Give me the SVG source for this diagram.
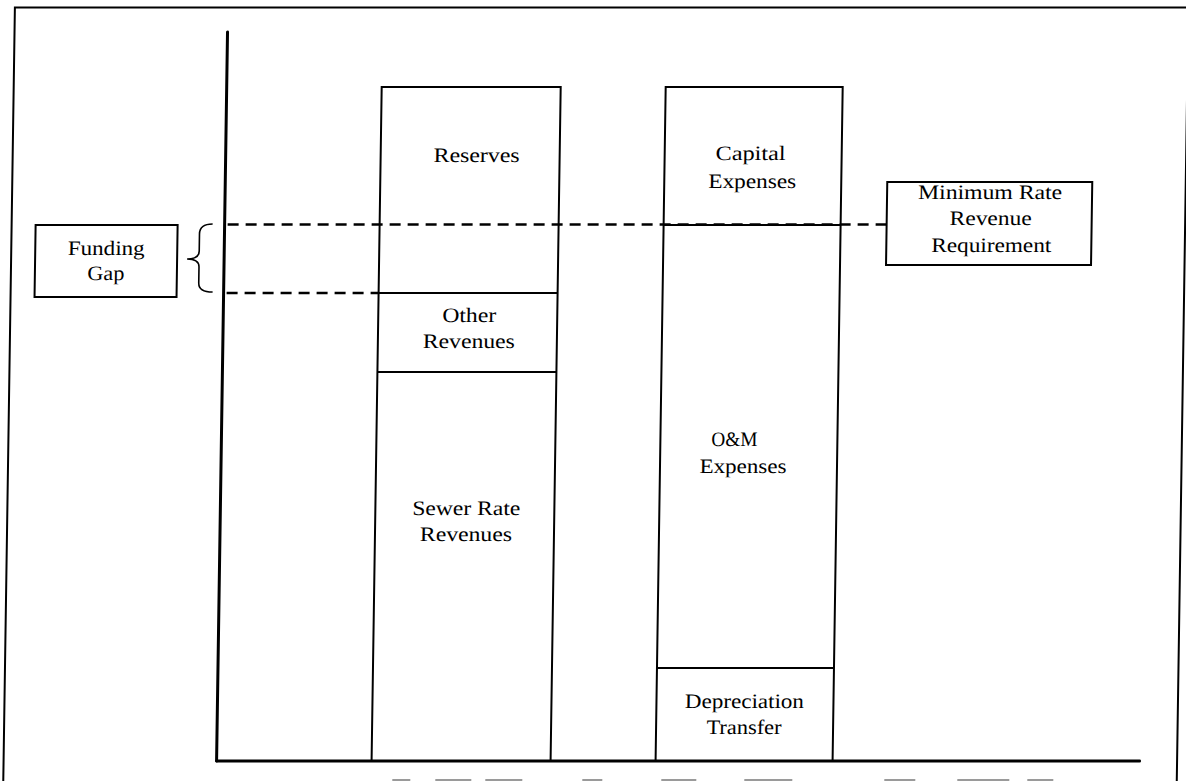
<svg xmlns="http://www.w3.org/2000/svg" width="1186" height="781" viewBox="0 0 1186 781">
  <style>
    .frame { fill: none; stroke: #000; stroke-width: 2; }
    .box { fill: none; stroke: #000; stroke-width: 2; }
    .axis { fill: none; stroke: #000; stroke-width: 3; stroke-linecap: round; }
    .div { fill: none; stroke: #000; stroke-width: 1.8; }
    .dash { fill: none; stroke: #000; stroke-width: 2.6; stroke-dasharray: 11 7; }
    .brace { fill: none; stroke: #000; stroke-width: 1.6; }
    .lbl { font-family: "Liberation Serif", "Times New Roman", serif; font-size: 20.5px; fill: #000; text-anchor: middle; }
    .smudge { fill: #9a9a9a; }
  </style>
  <rect width="1186" height="781" fill="#fff"/>
  <!-- the whole page leans slightly to the left -->
  <g transform="skewX(-0.86)">
    <g id="frame">
      <path class="frame" d="M15,800 L15,7.5 L1200,7.5 M1188.5,100 L1188.5,800"/>
    </g>

    <g id="axes">
      <line class="axis" x1="228" y1="32" x2="228" y2="761"/>
      <line class="axis" x1="228" y1="761" x2="1151" y2="761"/>
    </g>

    <g id="connectors">
      <!-- minimum rate revenue requirement level -->
      <line class="dash" x1="231" y1="224.5" x2="890" y2="224.5"/>
      <!-- available revenue level -->
      <line class="dash" x1="231" y1="293" x2="383" y2="293"/>
      <!-- brace marking the funding gap -->
      <path class="brace" d="M216,224 Q203,224 203,234 L203,251 Q203,259 191,259 Q203,259 203,267 L203,283 Q203,292 217,292"/>
    </g>

    <g id="revenues-bar">
      <rect class="box" x="383" y="87" width="179" height="674"/>
      <line class="div" x1="383" y1="293" x2="562" y2="293"/>
      <line class="div" x1="383" y1="372" x2="562" y2="372"/>
    </g>
    <g id="reserves">
      <text class="lbl" x="479" y="162" textLength="86" lengthAdjust="spacingAndGlyphs">Reserves</text>
    </g>
    <g id="other-revenues">
      <text class="lbl" x="474" y="322" textLength="54" lengthAdjust="spacingAndGlyphs">Other</text>
      <text class="lbl" x="474" y="348" textLength="92" lengthAdjust="spacingAndGlyphs">Revenues</text>
    </g>
    <g id="sewer-rate-revenues">
      <text class="lbl" x="474" y="515" textLength="108" lengthAdjust="spacingAndGlyphs">Sewer Rate</text>
      <text class="lbl" x="474" y="541" textLength="92" lengthAdjust="spacingAndGlyphs">Revenues</text>
    </g>

    <g id="expenses-bar">
      <rect class="box" x="667" y="87" width="177" height="674"/>
      <line class="div" x1="667" y1="225" x2="844" y2="225"/>
      <line class="div" x1="667" y1="668" x2="844" y2="668"/>
    </g>
    <g id="capital-expenses">
      <text class="lbl" x="753" y="160" textLength="70" lengthAdjust="spacingAndGlyphs">Capital</text>
      <text class="lbl" x="755" y="188" textLength="88" lengthAdjust="spacingAndGlyphs">Expenses</text>
    </g>
    <g id="om-expenses">
      <text class="lbl" x="741" y="446" textLength="46" lengthAdjust="spacingAndGlyphs">O&amp;M</text>
      <text class="lbl" x="750" y="473" textLength="87" lengthAdjust="spacingAndGlyphs">Expenses</text>
    </g>
    <g id="depreciation-transfer">
      <text class="lbl" x="755" y="708" textLength="119" lengthAdjust="spacingAndGlyphs">Depreciation</text>
      <text class="lbl" x="755" y="734" textLength="75" lengthAdjust="spacingAndGlyphs">Transfer</text>
    </g>

    <g id="funding-gap">
      <rect class="box" x="39" y="225" width="142" height="72"/>
      <text class="lbl" x="110" y="255" textLength="77" lengthAdjust="spacingAndGlyphs">Funding</text>
      <text class="lbl" x="110" y="280" textLength="37" lengthAdjust="spacingAndGlyphs">Gap</text>
    </g>

    <g id="minimum-rate-revenue-requirement">
      <rect class="box" x="890" y="182" width="205" height="83"/>
      <text class="lbl" x="993" y="199" textLength="144" lengthAdjust="spacingAndGlyphs">Minimum Rate</text>
      <text class="lbl" x="994" y="225" textLength="82" lengthAdjust="spacingAndGlyphs">Revenue</text>
      <text class="lbl" x="995" y="252" textLength="120" lengthAdjust="spacingAndGlyphs">Requirement</text>
    </g>

    <!-- faint marks along the lower edge -->
    <g id="edge-marks">
      <rect class="smudge" x="404" y="779" width="18" height="3"/>
      <rect class="smudge" x="447" y="779" width="36" height="3"/>
      <rect class="smudge" x="497" y="779" width="37" height="3"/>
      <rect class="smudge" x="594" y="779" width="20" height="3"/>
      <rect class="smudge" x="673" y="779" width="35" height="3"/>
      <rect class="smudge" x="756" y="779" width="48" height="3"/>
      <rect class="smudge" x="896" y="779" width="31" height="3"/>
      <rect class="smudge" x="969" y="779" width="52" height="3"/>
      <rect class="smudge" x="1039" y="779" width="26" height="3"/>
    </g>
  </g>
</svg>
